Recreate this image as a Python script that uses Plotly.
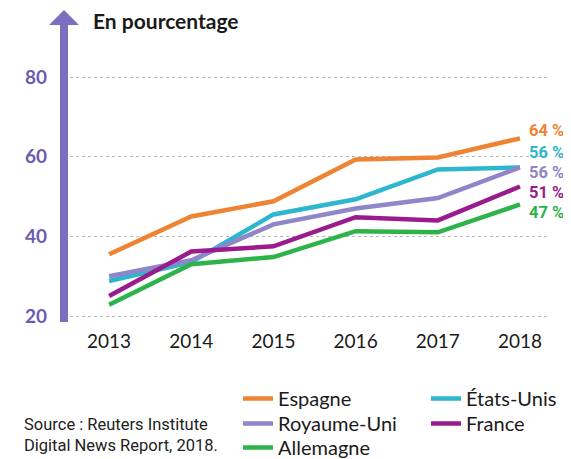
import plotly.graph_objects as go

years = [2013, 2014, 2015, 2016, 2017, 2018]
series_names = ["Espagne", "États-Unis", "Royaume-Uni", "France", "Allemagne"]
espagne = [35.5, 45.0, 48.8, 59.3, 59.8, 64.6]
etats_unis = [28.8, 33.5, 45.5, 49.3, 56.8, 57.3]
royaume_uni = [30.0, 34.0, 43.0, 47.0, 49.6, 57.3]
france = [25.0, 36.2, 37.5, 44.8, 44.0, 52.5]
allemagne = [22.8, 33.0, 34.8, 41.3, 41.0, 48.0]
end_labels = ["64 %", "56 %", "56 %", "51 %", "47 %"]
y_ticks = [20, 40, 60, 80]

colors = ["#EE8433", "#2DB6CE", "#8E86C9", "#9A1B8D", "#2DB34A"]
legend_ids = ["legend", "legend2", "legend3", "legend4", "legend5"]
# legend entry placement (figure pixels): left edge, top edge
legend_pos = [(230, 371), (418, 371), (230, 396), (418, 396), (230, 420)]
label_y = [66.6, 61.0, 56.0, 51.0, 46.0]  # label placement (spread to avoid overlap)

series = [espagne, etats_unis, royaume_uni, france, allemagne]

W, H = 563, 451

fig = go.Figure()
for name, vals, col, lg in zip(series_names, series, colors, legend_ids):
    fig.add_trace(go.Scatter(x=years, y=vals, mode="lines", name=name, legend=lg,
                             line=dict(color=col, width=4.5)))

for txt, ly, col in zip(end_labels, label_y, colors):
    fig.add_annotation(x=years[-1], y=ly, text="<b>" + txt + "</b>",
                       showarrow=False, xanchor="left", yanchor="middle", xshift=8,
                       borderpad=0,
                       font=dict(family="Roboto", size=16.5, color=col))

fig.add_annotation(xref="paper", yref="paper", x=0.056, y=1.027, text="<b>En pourcentage</b>",
                   showarrow=False, xanchor="left", yanchor="middle",
                   font=dict(family="Lato", size=21, color="#1a1a1a"))

fig.add_annotation(xref="paper", yref="paper", x=-0.0868, y=-0.4034,
                   text="Source : Reuters Institute<br>Digital News Report, 2018.",
                   showarrow=False, xanchor="left", yanchor="middle", align="left",
                   font=dict(family="Roboto", size=16.5, color="#222222"))

# axis arrow
fig.add_shape(type="line", xref="paper", yref="paper", x0=0, x1=0, y0=-0.014, y1=1.015,
              line=dict(color="#7B6FC0", width=8))
fig.add_shape(type="path", xref="paper", yref="paper",
              path="M -0.031,1.010 L 0,1.062 L 0.031,1.010 Z",
              fillcolor="#7B6FC0", line=dict(width=0))

legends = {}
for lg, (lx, ly) in zip(legend_ids, legend_pos):
    legends[lg] = dict(orientation="v", xanchor="left", yanchor="top",
                       xref="container", yref="container",
                       x=lx / W, y=1 - ly / H,
                       font=dict(family="Lato", size=20, color="#1a1a1a"),
                       bgcolor="rgba(0,0,0,0)")

fig.update_layout(
    width=W, height=H,
    margin=dict(l=56, r=23, t=20, b=141, autoexpand=False),
    paper_bgcolor="white", plot_bgcolor="white",
    showlegend=True,
    **legends,
    xaxis=dict(range=[2012.451, 2018.341], tickvals=years, ticktext=[str(y) for y in years],
               showgrid=False, zeroline=False, showline=False,
               tickfont=dict(family="Lato", size=19, color="#1a1a1a"),
               ticks="", ticklabelstandoff=10),
    yaxis=dict(range=[19.5, 92.3], tickvals=y_ticks, showgrid=True, gridcolor="#B8B8B8",
               griddash="dot", gridwidth=1.3, zeroline=False, showline=False,
               tickfont=dict(family="Lato", size=19, color="#6A5CB0", weight="bold"),
               ticks="", ticklabelstandoff=16),
)

fig.write_html("out.html")
